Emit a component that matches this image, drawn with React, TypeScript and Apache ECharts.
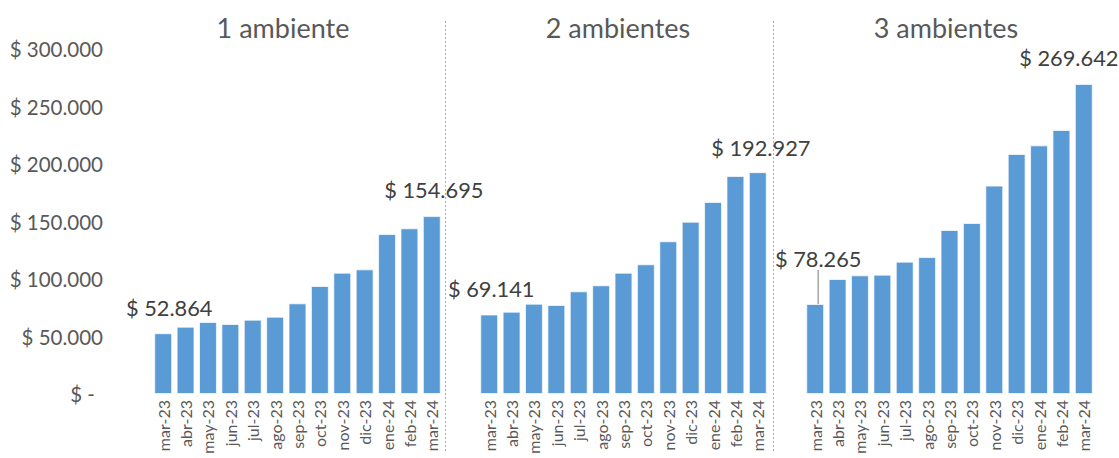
import React, { useEffect, useRef } from "react";
import * as echarts from "echarts";

const months = ["mar-23", "abr-23", "may-23", "jun-23", "jul-23", "ago-23", "sep-23", "oct-23", "nov-23", "dic-23", "ene-24", "feb-24", "mar-24"];
const panelTitles = ["1 ambiente", "2 ambientes", "3 ambientes"];
const amb1 = [52864, 58550, 62600, 60870, 64650, 67250, 78850, 93900, 105500, 108400, 139100, 144100, 154695];
const amb2 = [69141, 71600, 78550, 77400, 89300, 94500, 105500, 112800, 132800, 149850, 167000, 189600, 192927];
const amb3 = [78265, 100000, 103200, 103800, 115100, 119100, 142600, 148700, 181200, 208700, 216200, 229600, 269642];
const seriesData = [amb1, amb2, amb3];
const yMax = 300000;
const yStep = 50000;

const FONT = "Lato, 'Open Sans', sans-serif";
const GRID_LEFTS = [152, 478, 804];
const GRID_W = 291;
const GRID_TOP = 49;
const GRID_H = 345;
const TITLE_X = [283, 618, 946];
const DIVIDER_X = [445.5, 773.5];
// label shifts (dx, dy) for [first, last] labelled bars of each panel
const LABEL_SHIFTS = [
  [[6, -10], [2, -11]],
  [[2, -10], [3, -9]],
  [[3, -29], [-15, -10]],
];

function fmt(v: number): string {
  return String(Math.round(v)).replace(/\B(?=(\d{3})+(?!\d))/g, ".");
}

export default function App() {
  const ref = useRef<HTMLDivElement>(null);
  useEffect(() => {
    if (!ref.current) return;
    const chart = echarts.init(ref.current, undefined, { renderer: "svg" });
    const grids = GRID_LEFTS.map((l) => ({ left: l, top: GRID_TOP, width: GRID_W, height: GRID_H }));
    const xAxes = GRID_LEFTS.map((_, i) => ({
      type: "category",
      gridIndex: i,
      data: months,
      axisLine: { show: false },
      axisTick: { show: false },
      axisLabel: { rotate: 90, fontSize: 16, color: "#595959", fontFamily: FONT, margin: 6, interval: 0 },
    }));
    const yAxes = GRID_LEFTS.map((_, i) => ({
      type: "value",
      gridIndex: i,
      min: 0,
      max: yMax,
      interval: yStep,
      splitLine: { show: false },
      axisLine: { show: false },
      axisTick: { show: false },
      axisLabel: {
        show: i === 0,
        margin: 49,
        fontSize: 20.5,
        color: "#595959",
        fontFamily: FONT,
        formatter: (v: number) => (v === 0 ? "{z|$ -}" : "$ " + fmt(v)),
        rich: { z: { fontSize: 20.5, color: "#595959", fontFamily: FONT, padding: [0, 8, 0, 0] } },
      },
    }));
    const series = seriesData.map((arr, si) => ({
      type: "bar",
      xAxisIndex: si,
      yAxisIndex: si,
      barWidth: "80%",
      itemStyle: { color: "#5B9BD5", borderColor: "rgba(255,255,255,0.7)", borderWidth: 1 },
      labelLine: { show: false, lineStyle: { color: "#a6a6a6", width: 1.5 } },
      labelLayout: (p: any) => {
        const last = arr.length - 1;
        if (p.dataIndex === 0) return { dx: LABEL_SHIFTS[si][0][0], dy: LABEL_SHIFTS[si][0][1] };
        if (p.dataIndex === last) return { dx: LABEL_SHIFTS[si][1][0], dy: LABEL_SHIFTS[si][1][1] };
        return {};
      },
      data: arr.map((v, di) => {
        const isFirst = di === 0;
        const isLast = di === arr.length - 1;
        if (!isFirst && !isLast) return v;
        return {
          value: v,
          label: {
            show: true,
            position: "top",
            fontSize: 21.8,
            color: "#404040",
            fontFamily: FONT,
            formatter: (p: any) => "$ " + fmt(p.value),
          },
          labelLine: si === 2 && isFirst ? { show: true, lineStyle: { color: "#a6a6a6", width: 1.5 } } : { show: false },
        };
      }),
    }));
    const titles = TITLE_X.map((x, i) => ({
      type: "text",
      x,
      y: 27,
      style: {
        text: panelTitles[i],
        fontSize: 27,
        fill: "#595959",
        fontFamily: FONT,
        textAlign: "center",
        textVerticalAlign: "middle",
      },
    }));
    const dividers = DIVIDER_X.map((x) => ({
      type: "line",
      shape: { x1: x, y1: 21, x2: x, y2: 452 },
      style: { stroke: "#5B9BD5", opacity: 0.75, lineWidth: 1, lineDash: [2, 2] },
    }));
    chart.setOption({
      animation: false,
      grid: grids,
      xAxis: xAxes,
      yAxis: yAxes,
      series,
      graphic: [...titles, ...dividers],
    } as any);
    return () => chart.dispose();
  }, []);
  return <div ref={ref} style={{ position: "absolute", left: 0, top: 0, width: 1119, height: 458 }} />;
}
